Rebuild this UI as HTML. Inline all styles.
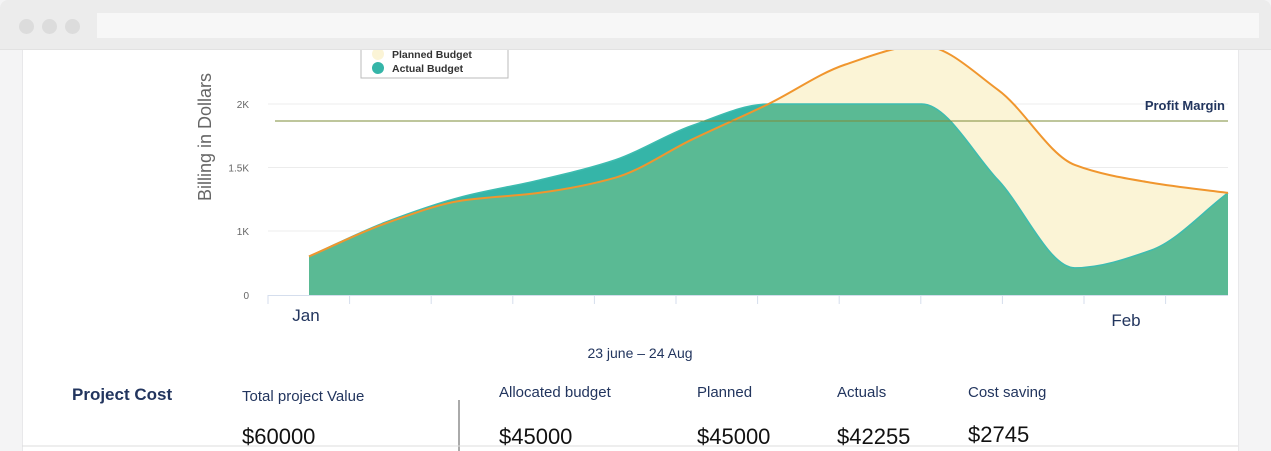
<!DOCTYPE html>
<html><head><meta charset="utf-8"><style>
body{margin:0;width:1271px;height:451px;overflow:hidden;background:#fff;font-family:"Liberation Sans",sans-serif;position:relative}
.abs{position:absolute}
</style></head><body>
<div class="abs" style="left:0;top:0;width:22px;height:451px;background:#f4f4f5;border-right:1px solid #e8e8ea"></div>
<div class="abs" style="left:1238px;top:0;width:33px;height:451px;background:#f4f4f5;border-left:1px solid #e8e8ea"></div>
<svg class="abs" style="left:0;top:0" width="1271" height="451">
<defs><clipPath id="plotclip"><rect x="0" y="50" width="1271" height="400"/></clipPath><clipPath id="plannedclip"><path id="pcp"/></clipPath></defs>
<g id="grid"></g>
<g clip-path="url(#plotclip)">
<path id="plannedArea" fill="#fbf4d6"/>
<path id="actualArea" fill="#35b5a8"/>
<path id="overlap" fill="#5aba94" clip-path="url(#plannedclip)"/>
<path id="actualEdge" fill="none" stroke="#3dbcb0" stroke-width="1.5"/>
<path id="plannedLine" fill="none" stroke="#f0962e" stroke-width="2"/>
</g>
<line x1="275" y1="121" x2="1228" y2="121" stroke="#7d8c3a" stroke-width="1"/>
<text x="1225" y="110" text-anchor="end" font-size="13" font-weight="bold" fill="#22355e">Profit Margin</text>
<text transform="translate(211,137) rotate(-90)" text-anchor="middle" font-size="18" fill="#666">Billing in Dollars</text>
<g id="yticks"></g><g id="xticks"></g>
<text x="306" y="321" text-anchor="middle" font-size="17" fill="#22355e">Jan</text>
<text x="1126" y="326" text-anchor="middle" font-size="17" fill="#22355e">Feb</text>
<g>
<rect x="361" y="40" width="147" height="38" fill="#fff" stroke="#bbb"/>
<circle cx="378" cy="54" r="6" fill="#fbf4d6"/><text x="392" y="58" font-size="10.5" font-weight="bold" fill="#333">Planned Budget</text>
<circle cx="378" cy="68" r="6" fill="#35b5a8"/><text x="392" y="72" font-size="10.5" font-weight="bold" fill="#333">Actual Budget</text>
</g>
<text x="640" y="358" text-anchor="middle" font-size="14" fill="#22355e">23 june – 24 Aug</text>
<line x1="459" y1="400" x2="459" y2="451" stroke="#555"/>
<line x1="22" y1="446" x2="1238" y2="446" stroke="#ddd"/>
</svg>
<div class="abs" style="left:0;top:0;width:1271px;height:49px;background:#ececec;border-bottom:1px solid #e2e2e2;border-radius:8px 8px 0 0">
<div class="abs" style="left:19px;top:19px;width:15px;height:15px;border-radius:50%;background:#dcdcdc"></div>
<div class="abs" style="left:42px;top:19px;width:15px;height:15px;border-radius:50%;background:#dcdcdc"></div>
<div class="abs" style="left:65px;top:19px;width:15px;height:15px;border-radius:50%;background:#dcdcdc"></div>
<div class="abs" style="left:97px;top:13px;width:1162px;height:25px;background:#f7f7f7"></div>
</div>
<div class="abs" style="left:72px;top:385px;font-size:17px;font-weight:bold;color:#22355e">Project Cost</div>
<div class="abs" style="left:242px;top:388px;font-size:15px;color:#22355e">Total project Value</div>
<div class="abs" style="left:242px;top:424px;font-size:22px;color:#111">$60000</div>
<div class="abs" style="left:499px;top:384px;font-size:15px;color:#22355e">Allocated budget</div>
<div class="abs" style="left:499px;top:424px;font-size:22px;color:#111">$45000</div>
<div class="abs" style="left:697px;top:384px;font-size:15px;color:#22355e">Planned</div>
<div class="abs" style="left:697px;top:424px;font-size:22px;color:#111">$45000</div>
<div class="abs" style="left:837px;top:384px;font-size:15px;color:#22355e">Actuals</div>
<div class="abs" style="left:837px;top:424px;font-size:22px;color:#111">$42255</div>
<div class="abs" style="left:968px;top:384px;font-size:15px;color:#22355e">Cost saving</div>
<div class="abs" style="left:968px;top:422px;font-size:22px;color:#111">$2745</div>
<script>
const categories=[0,1,2,3,4,5,6,7,8,9,10,11,12];
const planned=[0.80,1.06,1.24,1.30,1.42,1.72,2.0,2.31,2.46,2.11,1.52,1.38,1.30];
const actual=[0.80,1.07,1.27,1.40,1.56,1.83,2.0,2.0,2.0,1.40,0.71,0.85,1.30];
const yTickValues=[1,1.5,2];
const yTickLabels=['1K','1.5K','2K'];
const xTickCount=12;
const NS='http://www.w3.org/2000/svg';
const xs=i=>309+(1228-309)*i/(categories.length-1);
const ys=v=>231-(v-1)*127;
const base=295;
function mono(vals){
  const n=vals.length,P=vals.map((v,i)=>[xs(i),ys(v)]);
  const d=[],m=[];
  for(let i=0;i<n-1;i++)d.push((P[i+1][1]-P[i][1])/(P[i+1][0]-P[i][0]));
  for(let i=0;i<n;i++){
    if(i===0)m.push(d[0]);else if(i===n-1)m.push(d[n-2]);
    else m.push(d[i-1]*d[i]<=0?0:2/(1/d[i-1]+1/d[i]));
  }
  let s='M'+P[0][0]+','+P[0][1];
  for(let i=0;i<n-1;i++){
    const h=(P[i+1][0]-P[i][0])/3;
    s+=' C'+(P[i][0]+h)+','+(P[i][1]+m[i]*h)+' '+(P[i+1][0]-h)+','+(P[i+1][1]-m[i+1]*h)+' '+P[i+1][0]+','+P[i+1][1];
  }
  return s;
}
const close=' L'+xs(categories.length-1)+','+base+' L'+xs(0)+','+base+' Z';
const pl=mono(planned),ac=mono(actual);
document.getElementById('plannedArea').setAttribute('d',pl+close);
document.getElementById('pcp').setAttribute('d',pl+close);
document.getElementById('actualArea').setAttribute('d',ac+close);
document.getElementById('overlap').setAttribute('d',ac+close);
document.getElementById('actualEdge').setAttribute('d',ac);
document.getElementById('plannedLine').setAttribute('d',pl);
document.getElementById('plannedArea');
document.getElementById('plannedArea');
document.getElementById('actualArea');
document.getElementById('actualArea');
document.getElementById('plannedLine');
document.getElementById('plannedLine');
const grid=document.getElementById('grid'),yt=document.getElementById('yticks'),xt=document.getElementById('xticks');
function ylabel(txt,y){
  const t=document.createElementNS(NS,'text');
  t.setAttribute('x',249);t.setAttribute('y',y+4);t.setAttribute('text-anchor','end');
  t.setAttribute('font-size','10');t.setAttribute('fill','#666');t.textContent=txt;
  
  
  yt.appendChild(t);
}
ylabel('0',base);
yTickValues.forEach((v,i)=>{
  const l=document.createElementNS(NS,'line');
  l.setAttribute('x1',268);l.setAttribute('x2',1228);l.setAttribute('y1',ys(v));l.setAttribute('y2',ys(v));
  l.setAttribute('stroke','#ececec');
  
  
  grid.appendChild(l);
  ylabel(yTickLabels[i],ys(v));
});
const ax=document.createElementNS(NS,'line');
ax.setAttribute('x1',268);ax.setAttribute('x2',1228);ax.setAttribute('y1',295.5);ax.setAttribute('y2',295.5);ax.setAttribute('stroke','#d5deed');


xt.appendChild(ax);
for(let i=0;i<xTickCount;i++){
  const x=268+i*81.6;
  const l=document.createElementNS(NS,'line');
  l.setAttribute('x1',x);l.setAttribute('x2',x);l.setAttribute('y1',295);l.setAttribute('y2',304);l.setAttribute('stroke','#d5deed');
  
  
  xt.appendChild(l);
}
</script>
</body></html>
